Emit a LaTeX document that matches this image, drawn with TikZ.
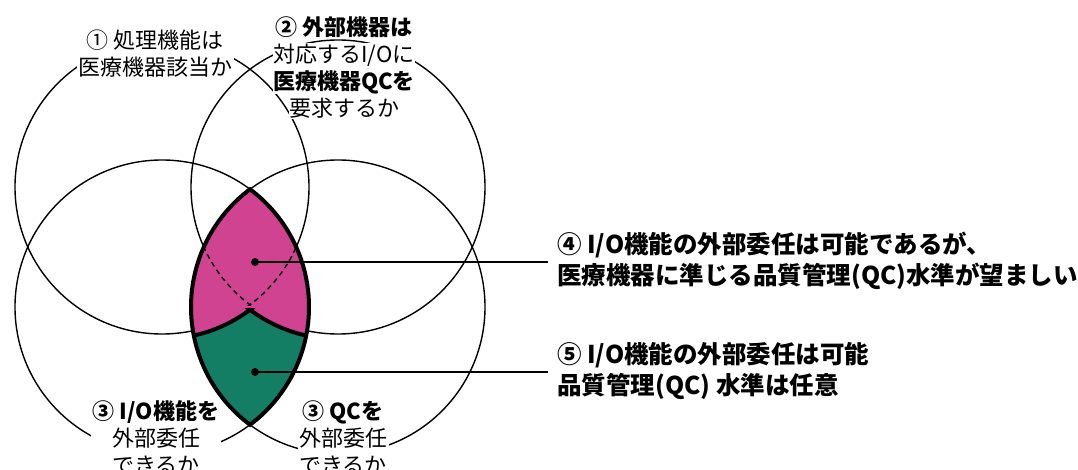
\documentclass[tikz,border=0pt]{standalone}
\usepackage{fontspec}
\setmainfont{Noto Sans CJK JP}
\definecolor{lensmag}{RGB}{207,67,145}
\definecolor{lensgrn}{RGB}{20,126,101}
\begin{document}
\begin{tikzpicture}[x=1pt,y=-1pt,
  ring/.style={draw=black, line width=1.4pt},
  thickedge/.style={draw=black, line width=4pt},
  dashring/.style={draw=black, line width=1.4pt, dash pattern=on 5pt off 4pt},
  lbl/.style={fill=white, inner sep=1.5pt, align=center, font=\fontsize{22}{27}\selectfont},
  note/.style={anchor=west, align=left, inner sep=0pt, font=\fontsize{24.5}{31}\selectfont\bfseries},
  pin/.style={circle, fill=black, inner sep=0pt, minimum size=8pt},
  lead/.style={draw=black, line width=1.4pt}]

\fill[white] (0,0) rectangle (1078,470);
\useasboundingbox (0,0) rectangle (1078,470);

\coordinate (cTL) at (162,187);
\coordinate (cTR) at (338,187);
\coordinate (cBL) at (162,307);
\coordinate (cBR) at (338,307);

% four circles
\draw[ring] (cTL) circle[radius=147];
\draw[ring] (cTR) circle[radius=147];
\draw[ring] (cBL) circle[radius=147];
\draw[ring] (cBR) circle[radius=147];

% lens region
\begin{scope}
  \clip (250,189.25) arc[start angle=233.23, end angle=126.77, radius=147]
        arc[start angle=53.23, end angle=-53.23, radius=147] -- cycle;
  \fill[lensgrn] (150,150) rectangle (350,450);
  \fill[lensmag] (162,192) circle[radius=147];
  \fill[lensmag] (338,192) circle[radius=147];
  \begin{scope}
    \clip (150,150) rectangle (350,305.5);
    \draw[dashring] (cTL) circle[radius=147];
    \draw[dashring] (cTR) circle[radius=147];
  \end{scope}
  \begin{scope}
    \clip (150,308) rectangle (350,450);
    \draw[thickedge] (162,192) circle[radius=147];
    \draw[thickedge] (338,192) circle[radius=147];
  \end{scope}
\end{scope}
\draw[thickedge, line join=miter] (250,189.25) arc[start angle=233.23, end angle=126.77, radius=147]
        arc[start angle=53.23, end angle=-53.23, radius=147] -- cycle;

% labels
\node[lbl] (t1) at (155,53.5) {① 処理機能は\\医療機器該当か};
\node[lbl, inner sep=0.5pt] (t2a) at (344,27) {\bfseries ② 外部機器は};
\node[lbl, inner sep=0.5pt] (t2b) at (344,55) {対応するI/Oに};
\node[lbl, inner sep=0.5pt] (t2c) at (344,82) {\bfseries 医療機器QCを};
\node[lbl, inner sep=0.5pt] (t2d) at (344,108) {要求するか};
\node[lbl] (b1) at (156,438) {\textbf{③ I/O機能を}\\外部委任\\できるか};
\node[lbl] (b2) at (343,438) {\textbf{③ QCを}\\外部委任\\できるか};

% pins and notes
\node[pin] (d4) at (255,262) {};
\node[pin] (d5) at (255,372) {};
\coordinate (e4) at (548,262);
\coordinate (e5) at (548,372);
\draw[lead] (d4.center) -- (e4);
\draw[lead] (d5.center) -- (e5);
\node[note] (n4) at (557,260.5) {④ I/O機能の外部委任は可能であるが、\\医療機器に準じる品質管理(QC)水準が望ましい};
\node[note] (n5) at (557,371) {⑤ I/O機能の外部委任は可能\\品質管理(QC) 水準は任意};
\end{tikzpicture}
\end{document}
